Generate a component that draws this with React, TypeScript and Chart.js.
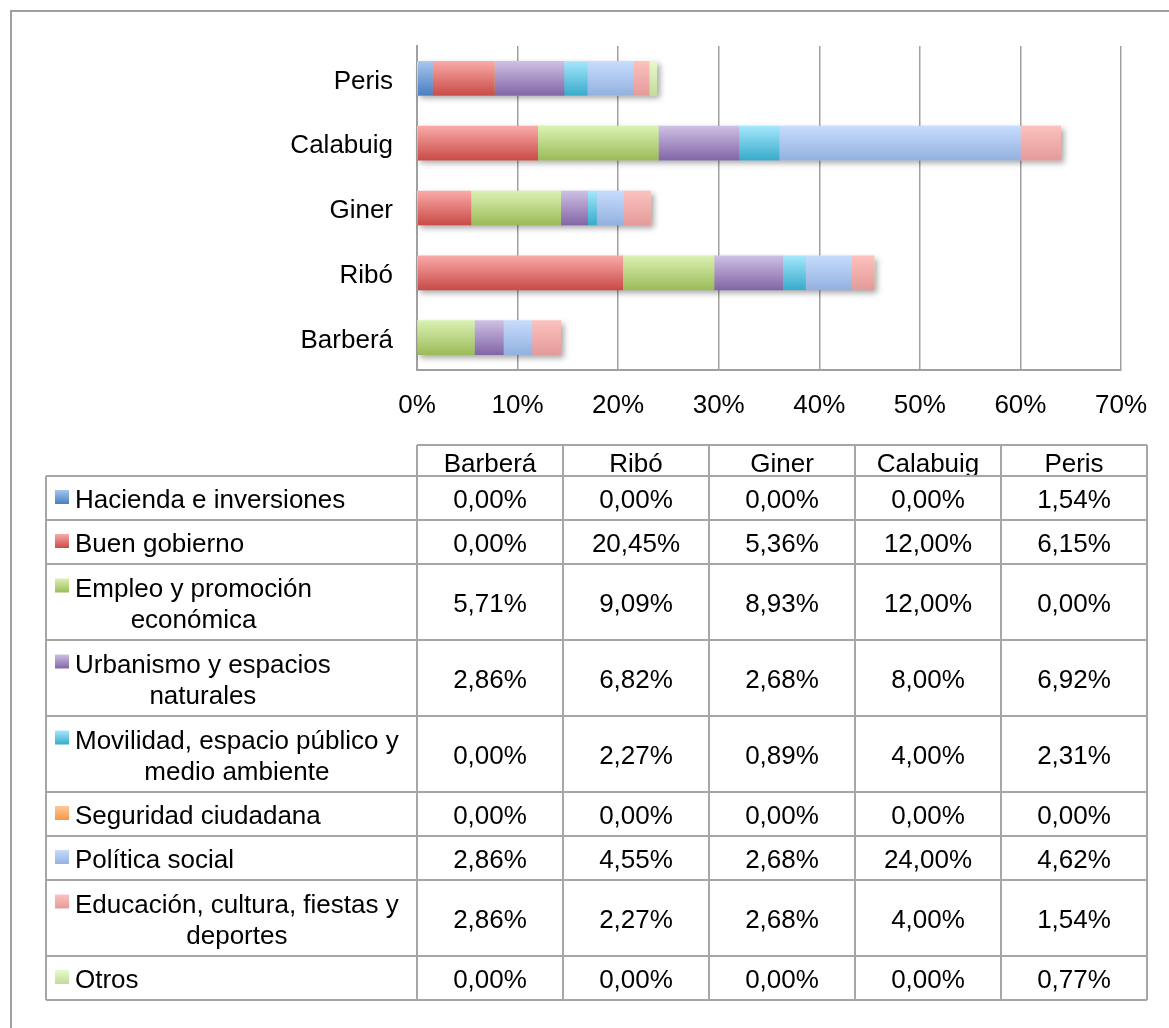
import React, { useEffect, useRef } from 'react';
import { Chart, registerables } from 'chart.js';

Chart.register(...registerables);

const candidates = ['Barberá', 'Ribó', 'Giner', 'Calabuig', 'Peris'];
const topics = [
  'Hacienda e inversiones',
  'Buen gobierno',
  'Empleo y promoción económica',
  'Urbanismo y espacios naturales',
  'Movilidad, espacio público y medio ambiente',
  'Seguridad ciudadana',
  'Política social',
  'Educación, cultura, fiestas y deportes',
  'Otros',
];
const hacienda = [0, 0, 0, 0, 1.54];
const buenGobierno = [0, 20.45, 5.36, 12.0, 6.15];
const empleo = [5.71, 9.09, 8.93, 12.0, 0];
const urbanismo = [2.86, 6.82, 2.68, 8.0, 6.92];
const movilidad = [0, 2.27, 0.89, 4.0, 2.31];
const seguridad = [0, 0, 0, 0, 0];
const politicaSocial = [2.86, 4.55, 2.68, 24.0, 4.62];
const educacion = [2.86, 2.27, 2.68, 4.0, 1.54];
const otros = [0, 0, 0, 0, 0.77];
const series = [hacienda, buenGobierno, empleo, urbanismo, movilidad, seguridad, politicaSocial, educacion, otros];
const xMin = 0;
const xMax = 70;
const xStep = 10;

const topColors = ['#a5c6ef', '#f9aaa8', '#daf1b2', '#cebfe4', '#a4e7fb', '#fdc99b', '#c7dcfd', '#fcc1be', '#e9f9cd'];
const bottomColors = ['#4a7fc0', '#c94b47', '#9bbc59', '#8266a6', '#38abcb', '#f79646', '#93b1df', '#e49b99', '#c2db99'];

const FONT = '"Liberation Sans", Arial, sans-serif';
const BAR = 34;
const LINE = '#a6a6a6';

const fmt = (v: number) => v.toFixed(2).replace('.', ',') + '%';

function wrap(ctx: CanvasRenderingContext2D, text: string, maxW: number): string[] {
  const words = text.split(' ');
  const lines: string[] = [];
  let cur = '';
  for (const w of words) {
    const t = cur ? cur + ' ' + w : w;
    if (ctx.measureText(t).width > maxW && cur) {
      lines.push(cur);
      cur = w;
    } else cur = t;
  }
  if (cur) lines.push(cur);
  return lines;
}

const shadowPlugin = {
  id: 'barShadow',
  beforeDatasetsDraw(chart: any) {
    const { ctx, scales } = chart;
    const xs = scales.x;
    const ys = scales.y;
    ctx.save();
    ctx.shadowColor = 'rgba(0,0,0,0.35)';
    ctx.shadowBlur = 6;
    ctx.shadowOffsetX = 3;
    ctx.shadowOffsetY = 3;
    ctx.fillStyle = '#ffffff';
    candidates.forEach((_, i) => {
      const total = series.reduce((s, arr) => s + arr[i], 0);
      const x0 = xs.getPixelForValue(0);
      const x1 = xs.getPixelForValue(total);
      const yc = ys.getPixelForValue(i);
      ctx.fillRect(x0, yc - BAR / 2, x1 - x0, BAR);
    });
    ctx.restore();
  },
};

const tablePlugin = {
  id: 'dataTable',
  afterDraw(chart: any) {
    const ctx: CanvasRenderingContext2D = chart.ctx;
    ctx.save();
    ctx.strokeStyle = '#a0a0a0';
    ctx.lineWidth = 2;
    ctx.strokeRect(11, 11, 1200, 1100);

    const left = 46;
    const colStart = 417;
    const colW = 146;
    const right = colStart + colW * candidates.length;
    const headTop = 445;
    const headBot = 476;
    ctx.font = `26px ${FONT}`;
    ctx.fillStyle = '#000';
    ctx.textBaseline = 'middle';

    const labelLines = topics.map((t) => wrap(ctx, t, 340));
    const rowTops: number[] = [];
    let y = headBot;
    labelLines.forEach((ls) => {
      rowTops.push(y);
      y += 12 + 32 * ls.length;
    });
    const bottom = y;

    ctx.textAlign = 'center';
    candidates.forEach((c, j) => {
      ctx.fillText(c, colStart + colW * j + colW / 2, (headTop + headBot) / 2 + 4);
    });

    labelLines.forEach((ls, r) => {
      const top = rowTops[r];
      const h = 12 + 32 * ls.length;
      const mid = top + h / 2;
      const firstMid = mid - ((ls.length - 1) * 31) / 2 + 3;
      const g = ctx.createLinearGradient(0, firstMid - 11, 0, firstMid + 3);
      g.addColorStop(0, topColors[r]);
      g.addColorStop(1, bottomColors[r]);
      ctx.fillStyle = g;
      ctx.fillRect(55, firstMid - 11, 14, 14);
      ctx.fillStyle = '#000';
      ctx.textAlign = 'left';
      ctx.fillText(ls[0], 75, firstMid);
      const w0 = ctx.measureText(ls[0]).width;
      const cx = 75 + w0 / 2;
      ctx.textAlign = 'center';
      for (let k = 1; k < ls.length; k++) {
        ctx.fillText(ls[k], cx, firstMid + 31 * k);
      }
      series[r].forEach((v, j) => {
        ctx.fillText(fmt(v), colStart + colW * j + colW / 2, mid + 3);
      });
    });

    ctx.strokeStyle = LINE;
    ctx.lineWidth = 2;
    ctx.beginPath();
    ctx.moveTo(colStart, headTop);
    ctx.lineTo(right, headTop);
    ctx.moveTo(left, headBot);
    ctx.lineTo(right, headBot);
    rowTops.slice(1).forEach((t) => {
      ctx.moveTo(left, t);
      ctx.lineTo(right, t);
    });
    ctx.moveTo(left, bottom);
    ctx.lineTo(right, bottom);
    ctx.moveTo(left, headBot);
    ctx.lineTo(left, bottom);
    for (let j = 0; j <= candidates.length; j++) {
      const x = colStart + colW * j;
      ctx.moveTo(x, headTop);
      ctx.lineTo(x, bottom);
    }
    ctx.stroke();
    ctx.restore();
  },
};

export default function App() {
  const ref = useRef<HTMLCanvasElement>(null);
  useEffect(() => {
    if (!ref.current) return;
    const chart = new Chart(ref.current, {
      type: 'bar',
      data: {
        labels: candidates,
        datasets: topics.map((t, i) => ({
          label: t,
          data: series[i],
          barThickness: BAR,
          borderWidth: 0,
          backgroundColor: (c: any) => {
            const ys = c.chart.scales && c.chart.scales.y;
            if (!ys || c.type !== 'data') return bottomColors[i];
            const yc = ys.getPixelForValue(c.dataIndex);
            if (!isFinite(yc)) return bottomColors[i];
            const g = c.chart.ctx.createLinearGradient(0, yc - BAR / 2, 0, yc + BAR / 2);
            g.addColorStop(0, topColors[i]);
            g.addColorStop(1, bottomColors[i]);
            return g;
          },
        })),
      },
      options: {
        indexAxis: 'y',
        responsive: false,
        animation: false,
        layout: { padding: { left: 0, top: 46, right: 48, bottom: 1028 - 370 - 60 } },
        plugins: { legend: { display: false }, tooltip: { enabled: false } },
        scales: {
          y: {
            type: 'category',
            stacked: true,
            reverse: true,
            grid: { display: false, drawTicks: false },
            border: { display: true, color: '#a0a0a0', width: 2 },
            ticks: { color: '#000', padding: 24, labelOffset: 3, font: { family: FONT, size: 26 } },
            afterFit: (s: any) => {
              s.width = 417;
            },
          },
          x: {
            type: 'linear',
            stacked: true,
            min: xMin,
            max: xMax,
            grid: { color: '#a0a0a0', lineWidth: 1.5, drawTicks: false },
            border: { display: true, color: '#a0a0a0', width: 2 },
            ticks: {
              stepSize: xStep,
              color: '#000',
              padding: 20,
              font: { family: FONT, size: 26 },
              callback: (v: any) => v + '%',
            },
            afterFit: (s: any) => {
              s.height = 60;
            },
          },
        },
      },
      plugins: [shadowPlugin, tablePlugin],
    } as any);
    chart.update('none');
    return () => chart.destroy();
  }, []);
  return (
    <div style={{ position: 'absolute', left: 0, top: 0, width: 1169, height: 1028, background: '#fff' }}>
      <canvas ref={ref} width={1169} height={1028} style={{ display: 'block' }} />
    </div>
  );
}
